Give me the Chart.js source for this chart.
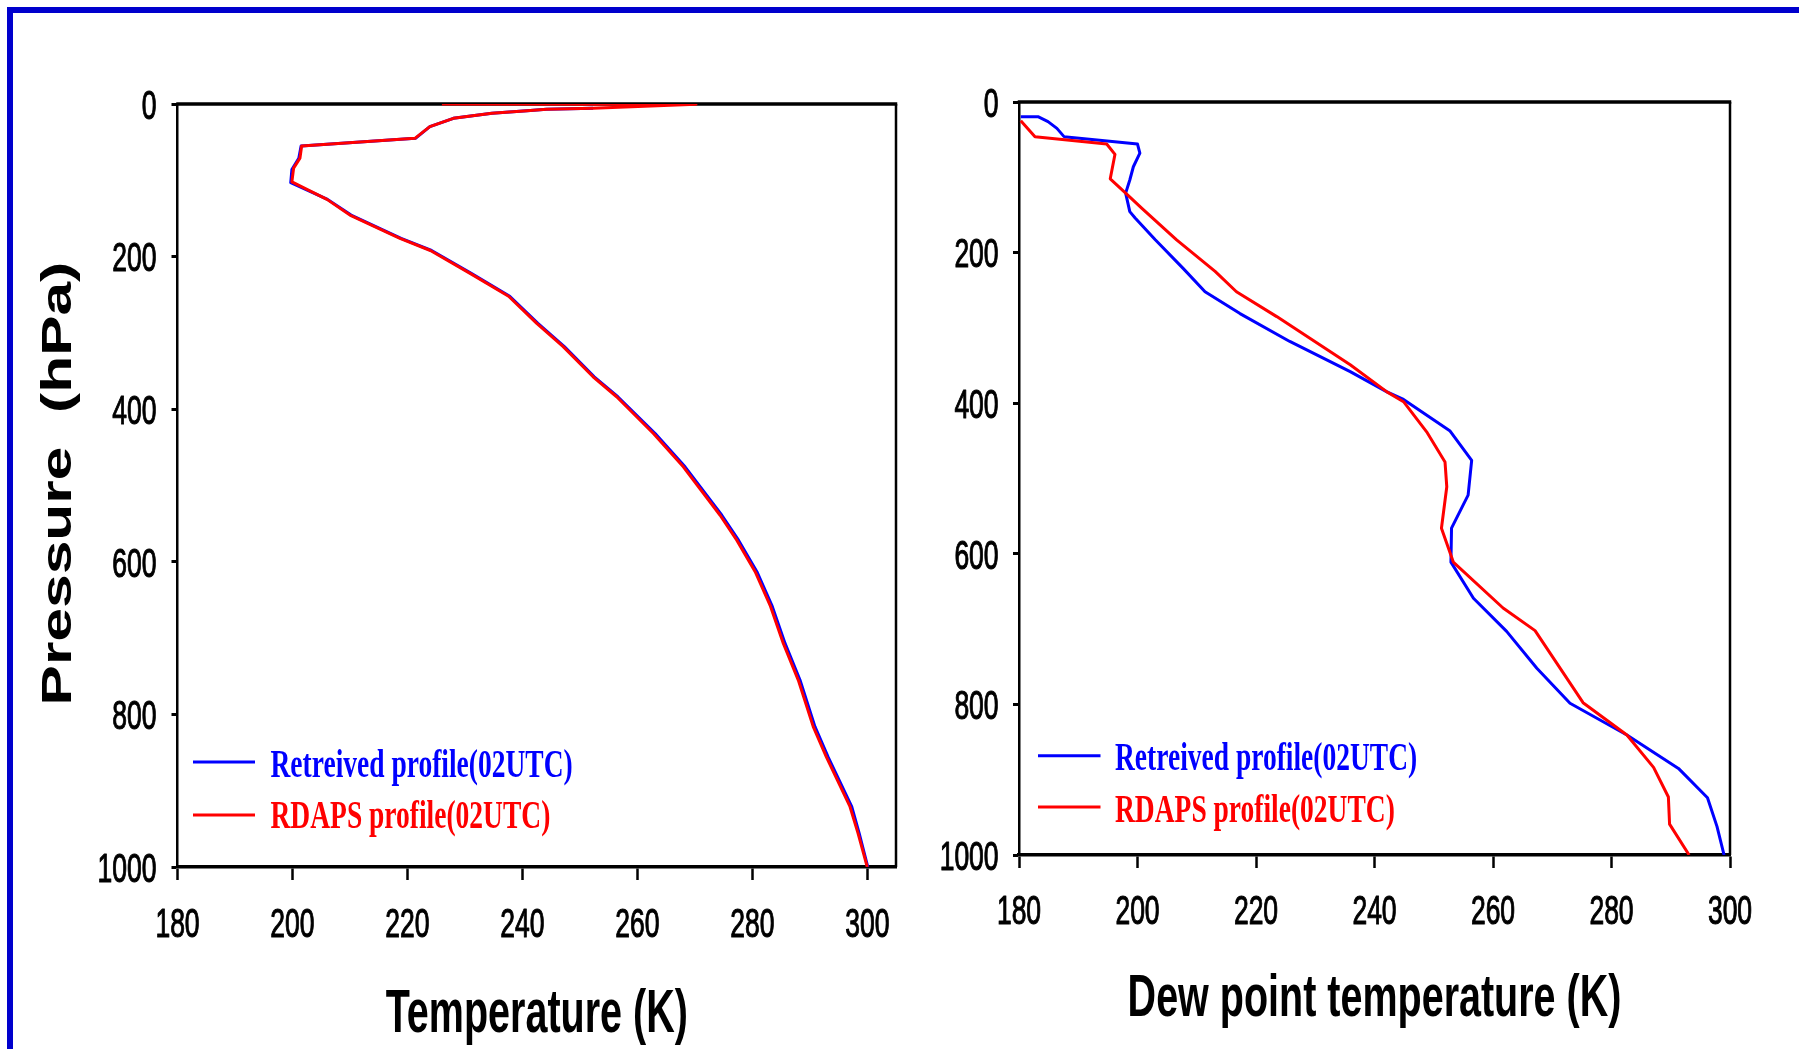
<!DOCTYPE html>
<html><head><meta charset="utf-8">
<script src="https://cdn.jsdelivr.net/npm/chart.js@4.4.1/dist/chart.umd.min.js"></script>
<style>
html,body{margin:0;padding:0;background:#fff;overflow:hidden;width:1799px;height:1049px;}
#frame{position:absolute;left:7px;top:7px;width:1900px;height:1200px;border-top:6px solid #0000CD;border-left:6px solid #0000CD;}
canvas{position:absolute;left:0;top:0;}
</style></head><body>
<div id="frame"></div>
<canvas id="c1" width="1799" height="1049"></canvas>
<canvas id="c2" width="1799" height="1049" style="pointer-events:none"></canvas>
<script>
// ---------- tick labels ----------
const pressureTicks = [0, 200, 400, 600, 800, 1000];
const tempTicks = [180, 200, 220, 240, 260, 280, 300];

// ---------- series names / titles ----------
const seriesNames = ['Retreived profile(02UTC)', 'RDAPS profile(02UTC)'];
const xTitles = ['Temperature (K)', 'Dew point temperature (K)'];
const yTitle = 'Pressure  (hPa)';

// ---------- Temperature panel: RDAPS ----------
const tRdapsP = [0, 0.3, 5.7, 7, 8.7, 12.2, 18.8, 29.7, 45, 55, 71, 84, 102, 125, 145.5, 176, 192, 222, 252, 287.6, 318, 357.5, 383.7, 431.8, 475.5, 539, 571.6, 613, 657, 707, 755, 816, 856, 921, 956, 1000];
const tRdapsT = [226, 270.2, 252.3, 244.2, 240.8, 234.7, 228, 223.9, 221.3, 201.6, 201.3, 200.2, 199.9, 206, 210, 218.7, 224, 230.9, 237.6, 242.5, 247.1, 252.3, 256.4, 262.8, 268, 274.4, 277.3, 280.5, 283.1, 285.4, 288, 290.6, 292.9, 297, 298.4, 300];
// ---------- Temperature panel: Retrieved ----------
const tRetP = [5.7, 7, 8.7, 12.2, 18.8, 29.7, 45, 55, 71, 86, 103, 125, 145.5, 176, 192, 222, 252, 287.6, 318, 357.5, 383.7, 431.8, 475.5, 539, 571.6, 613, 657, 707, 755, 816, 856, 921, 956, 1000];
const tRetT = [252.3, 244.2, 240.8, 234.7, 228, 223.9, 221.4, 201.5, 201.1, 199.9, 199.7, 206.1, 210.2, 218.9, 224.2, 231.1, 237.8, 242.7, 247.3, 252.5, 256.6, 263.1, 268.3, 274.7, 277.6, 280.8, 283.4, 285.7, 288.3, 290.9, 293.2, 297.3, 298.6, 300.1];

// ---------- Dew point panel: Retrieved ----------
const tdRetP = [19.5, 19.5, 26, 35, 46, 55.8, 68, 86, 103.6, 121, 145.6, 154, 183, 221, 252, 281, 318, 358, 385, 395, 436.5, 476, 522, 566, 611, 659, 703, 752, 798.5, 840.6, 885, 924, 962, 1000];
const tdRetT = [180.3, 183.2, 184.9, 186.4, 187.6, 200.0, 200.4, 199.3, 198.7, 198.0, 198.7, 199.6, 203, 207.7, 211.4, 217.3, 225.7, 235.9, 242.1, 244.9, 252.7, 256.4, 255.8, 253, 252.9, 256.7, 262.3, 267.4, 273, 282.6, 291.3, 296.2, 297.8, 299];
// ---------- Dew point panel: RDAPS ----------
const tdRdapsP = [25, 46, 55.8, 69.5, 102, 121, 141, 183, 225, 252, 285, 349, 385, 398, 438, 478, 511, 566, 611, 672, 702, 797.7, 840.6, 883.6, 923, 959, 1000];
const tdRdapsT = [180.3, 182.7, 194.8, 196.2, 195.4, 198, 200.7, 206.6, 213.1, 216.7, 223.5, 235.9, 242.1, 244.9, 248.8, 251.9, 252.2, 251.3, 253.3, 261.7, 267.1, 275.2, 282.6, 287.1, 289.6, 289.8, 293.1];

const BLUE = '#0000FF', RED = '#FF0000';
const W = 1799, H = 1049, AXW = 20;

function pts(P, T) { return P.map((p, i) => ({ x: T[i], y: p })); }

function sText(ctx, text, x, y, font, k, align, color, rotate, strokeW) {
  ctx.save();
  ctx.translate(x, y);
  ctx.font = font;
  ctx.fillStyle = color;
  ctx.textAlign = align;
  ctx.textBaseline = 'alphabetic';
  if (rotate) { ctx.rotate(-Math.PI / 2); ctx.scale(k, 1); }
  else { ctx.scale(1, k); }
  ctx.fillText(text, 0, 0);
  if (strokeW) { ctx.strokeStyle = color; ctx.lineWidth = strokeW; ctx.lineJoin = 'round'; ctx.strokeText(text, 0, 0); }
  ctx.restore();
}

function makePanel(canvas, cfg) {
  const a = cfg.area;
  const tickFont = '26.5px "Liberation Sans", Arial, sans-serif';
  const kT = 1.55;
  const plugin = {
    id: 'decor',
    beforeDatasetsDraw(chart) {
      const c = chart.ctx, ca = chart.chartArea;
      c.save();
      c.strokeStyle = '#000';
      c.lineWidth = 3.5;
      c.beginPath(); c.moveTo(ca.left - 1.25, ca.top); c.lineTo(ca.right + 1.25, ca.top); c.stroke();
      c.lineWidth = 2.5;
      c.beginPath(); c.moveTo(ca.right, ca.top); c.lineTo(ca.right, ca.bottom); c.stroke();
      c.restore();
    },
    afterDraw(chart) {
      const c = chart.ctx, ca = chart.chartArea;
      const xs = chart.scales.x, ys = chart.scales.y;
      const dOff = 0.358 * 26.5 * kT;
      xs.ticks.forEach(t => {
        sText(c, String(t.value), xs.getPixelForValue(t.value), cfg.xLabelBase, tickFont, kT, 'center', '#000', false, 0.7);
      });
      ys.ticks.forEach(t => {
        sText(c, String(t.value), cfg.yLabelRight, ys.getPixelForValue(t.value) + dOff, tickFont, kT, 'right', '#000', false, 0.7);
      });
      // x title
      sText(c, cfg.xTitle, (ca.left + ca.right) / 2, cfg.xTitleBase, 'bold 39.5px "Liberation Sans", Arial, sans-serif', cfg.xTitleK, 'center', '#000');
      // y title
      if (cfg.yTitle) {
        sText(c, cfg.yTitle, 71, 483.6, 'bold 42px "Liberation Sans", Arial, sans-serif', 1.44, 'center', '#000', true);
      }
      // legend
      const colors = [BLUE, RED];
      cfg.legend.forEach((L, i) => {
        c.save();
        c.strokeStyle = colors[i]; c.lineWidth = 3;
        c.beginPath(); c.moveTo(L.x0, L.ly); c.lineTo(L.x1, L.ly); c.stroke();
        c.restore();
        sText(c, seriesNames[i], L.tx, L.base, 'bold 27.5px "Liberation Serif", "Times New Roman", serif', 1.49, 'left', colors[i]);
      });
    }
  };
  return new Chart(canvas, {
    type: 'scatter',
    data: {
      datasets: [
        { label: seriesNames[0], data: cfg.blue, borderColor: BLUE, backgroundColor: BLUE, showLine: true, borderWidth: 3, pointRadius: 0, pointHoverRadius: 0, order: 2, borderJoinStyle: 'round' },
        { label: seriesNames[1], data: cfg.red, borderColor: RED, backgroundColor: RED, showLine: true, borderWidth: 3, pointRadius: 0, pointHoverRadius: 0, order: 1, borderJoinStyle: 'round' }
      ]
    },
    options: {
      responsive: false, animation: false, devicePixelRatio: 1,
      events: [],
      layout: { padding: { left: a.left - AXW, top: a.top, right: W - a.right, bottom: H - a.bottom - AXW } },
      plugins: { legend: { display: false }, tooltip: { enabled: false }, title: { display: false } },
      scales: {
        x: {
          type: 'linear', position: 'bottom', min: 180, max: cfg.xMax,
          afterBuildTicks: s => { s.ticks = tempTicks.map(v => ({ value: v })); },
          afterFit: s => { s.height = AXW; },
          ticks: { display: false },
          grid: { display: true, drawOnChartArea: false, drawTicks: true, tickLength: 13, tickWidth: 2.5, tickColor: '#000' },
          border: { display: true, color: '#000', width: 3.5 }
        },
        y: {
          type: 'linear', position: 'left', reverse: true, min: 0, max: 1000,
          afterBuildTicks: s => { s.ticks = pressureTicks.map(v => ({ value: v })); },
          afterFit: s => { s.width = AXW; },
          ticks: { display: false },
          grid: { display: true, drawOnChartArea: false, drawTicks: true, tickLength: 6, tickWidth: 3, tickColor: '#000' },
          border: { display: true, color: '#000', width: 2.5 }
        }
      }
    },
    plugins: [plugin]
  });
}

makePanel(document.getElementById('c1'), {
  area: { left: 177.5, right: 896, top: 104, bottom: 867 },
  xMax: 305,
  blue: pts(tRetP, tRetT),
  red: pts(tRdapsP, tRdapsT),
  xLabelBase: 937, yLabelRight: 156.5,
  xTitle: xTitles[0], xTitleBase: 1031.5, xTitleK: 1.53,
  yTitle: yTitle,
  legend: [
    { x0: 193, x1: 255, ly: 762, tx: 270.5, base: 777.3 },
    { x0: 193, x1: 255, ly: 815, tx: 270.5, base: 828.3 }
  ]
});

makePanel(document.getElementById('c2'), {
  area: { left: 1019, right: 1730, top: 102, bottom: 855 },
  xMax: 300,
  blue: pts(tdRetP, tdRetT),
  red: pts(tdRdapsP, tdRdapsT),
  xLabelBase: 924, yLabelRight: 998.6,
  xTitle: xTitles[1], xTitleBase: 1016, xTitleK: 1.48,
  yTitle: null,
  legend: [
    { x0: 1038, x1: 1100.5, ly: 755.7, tx: 1115, base: 770 },
    { x0: 1038, x1: 1100.5, ly: 807, tx: 1115, base: 821.7 }
  ]
});
</script>
</body></html>
